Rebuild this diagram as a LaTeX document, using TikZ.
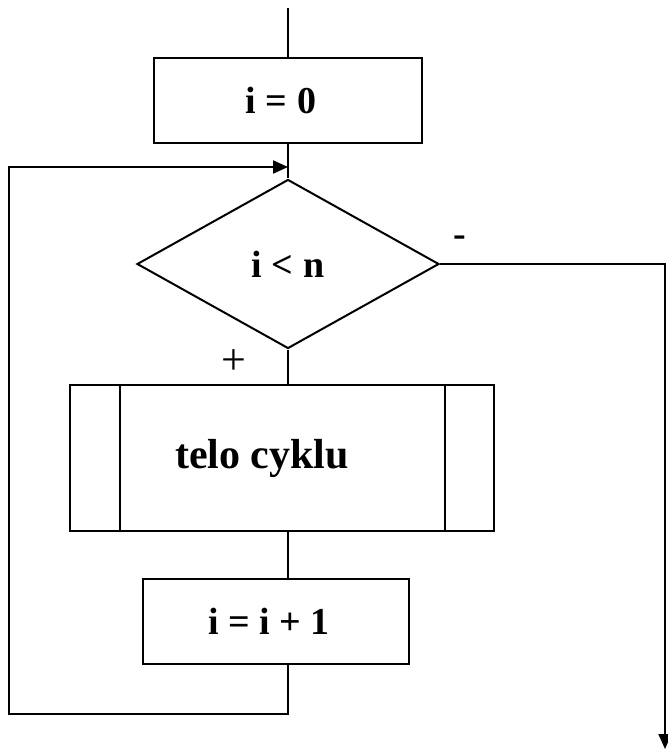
\documentclass[tikz,border=0pt]{standalone}
\usepackage{fontspec}
\setmainfont{Liberation Serif}
\usetikzlibrary{arrows.meta,shapes.geometric,calc}
\tikzset{
    blok/.style={rectangle, draw=black, line width=2pt, inner sep=0pt,
      font=\bfseries\fontsize{38}{40}\selectfont, text centered},
    podm/.style={diamond, draw=black, line width=2pt, inner sep=0pt, aspect=1.79,
      font=\bfseries\fontsize{38}{40}\selectfont},
    spoj/.style={line width=2pt},
    pil/.style={spoj, -{Triangle[length=15pt,width=13pt]}}
}
\begin{document}
\begin{tikzpicture}[x=1pt, y=-1pt]
    \useasboundingbox (0,0) rectangle (667,751);
    \coordinate (start) at (288,8);
    \node[blok, minimum width=268pt, minimum height=85pt] (init) at (288,100.5)
      {i = 0\hspace*{14pt}};
    \coordinate (join) at (288,167);
    \node[podm, minimum width=302pt, minimum height=169pt] (test) at (288,264)
      {i < n};
    \node[blok, minimum width=424pt, minimum height=146pt,
      font=\bfseries\fontsize{42}{44}\selectfont] (body) at (282,458)
      {telo cyklu\hspace*{40pt}};
    \draw[spoj] ($(body.north west)+(51,0)$) -- ($(body.south west)+(51,0)$);
    \draw[spoj] ($(body.north east)+(-50,0)$) -- ($(body.south east)+(-50,0)$);
    \node[blok, minimum width=266pt, minimum height=85pt] (step) at (276,621.5)
      {i = i + 1\hspace*{14pt}};
    \coordinate (exit) at (665,749);

    \draw[spoj] (start) -- (init.north);
    \draw[spoj] (init.south) -- (test.north);
    \draw[spoj] (test.south) -- (test.south |- body.north);
    \draw[spoj] (test.south |- body.south) -- (test.south |- step.north);
    % navrat cyklu
    \draw[pil] (test.south |- step.south) -- ++(0,49) -| (9,167) -- (join);
    % vystup
    \draw[pil] (test.east) -| (exit);

    \node[font=\fontsize{44}{46}\selectfont] (plus) at (234,362) {+};
    \node[font=\bfseries\fontsize{38}{40}\selectfont] (minus) at (460,241) {-};
\end{tikzpicture}
\end{document}
